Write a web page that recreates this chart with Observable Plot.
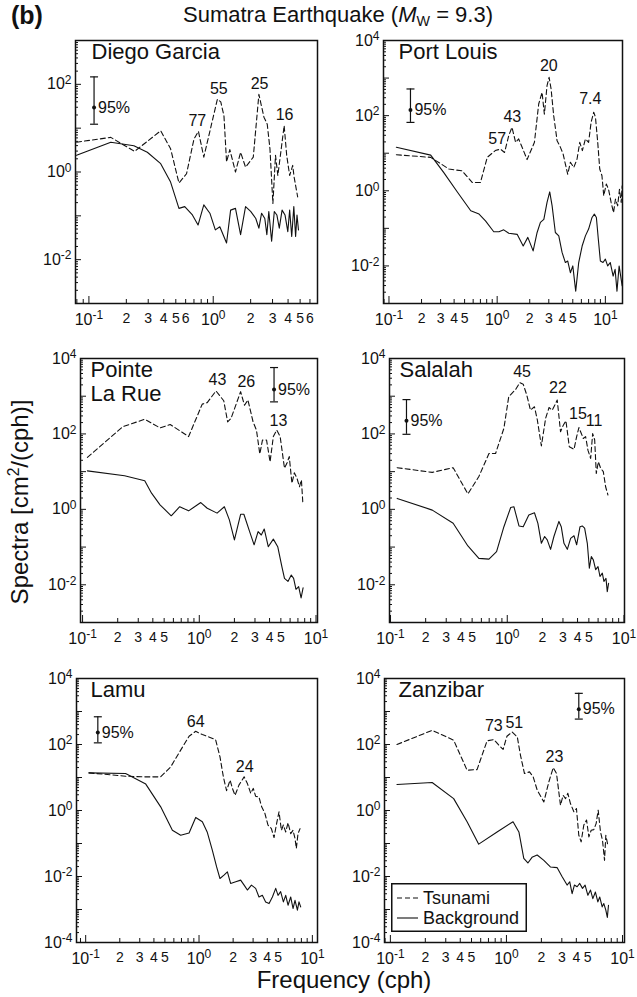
<!DOCTYPE html>
<html><head><meta charset="utf-8">
<script src="https://cdn.jsdelivr.net/npm/d3@7"></script>
<script src="https://cdn.jsdelivr.net/npm/@observablehq/plot@0.6"></script>
<style>
body{margin:0;background:#fff;font-family:"Liberation Sans",Arial,Helvetica,sans-serif;color:#111;}
#root{position:relative;width:637px;height:997px;overflow:hidden;background:#fff;}
.abs{position:absolute;white-space:nowrap;}
</style></head><body><div id="root"></div>
<script>
// ---- data: [frequency (cph), log10 spectrum (cm^2/cph)] ----
const diegoTsunami=[[0.0796,0.68],[0.15,0.79],[0.233,0.47],[0.378,0.94],[0.454,0.53],[0.53,-0.25],[0.61,-0.04],[0.70,0.75],[0.76,0.93],[0.84,0.34],[1.08,1.66],[1.15,1.6],[1.22,1.28],[1.28,0.23],[1.36,0.51],[1.51,0.0],[1.66,0.45],[1.82,0.11],[2.1,0.34],[2.33,1.77],[2.56,1.25],[2.72,1.09],[2.86,0.53],[3.02,-0.72],[3.17,0.38],[3.31,-0.08],[3.55,0.6],[3.72,1.06],[3.9,0.38],[4.12,-0.08],[4.36,0.15],[4.47,-0.11],[4.78,-0.57]];
const diegoBackground=[[0.0796,0.38],[0.15,0.68],[0.23,0.60],[0.295,0.45],[0.378,0.19],[0.454,-0.23],[0.53,-0.83],[0.59,-0.79],[0.68,-0.98],[0.755,-1.21],[0.84,-0.75],[0.94,-0.94],[1.04,-1.32],[1.13,-1.25],[1.28,-1.62],[1.38,-0.87],[1.51,-0.83],[1.66,-1.43],[1.82,-0.79],[2.0,-0.9],[2.2,-1.06],[2.33,-1.28],[2.45,-0.94],[2.6,-1.06],[2.7,-1.43],[2.8,-0.9],[2.95,-1.58],[3.1,-0.9],[3.25,-0.98],[3.4,-1.28],[3.58,-0.87],[3.78,-0.98],[3.98,-1.36],[4.12,-0.87],[4.28,-1.47],[4.45,-0.79],[4.6,-1.47],[4.72,-0.98],[4.85,-1.32]];
const portTsunami=[[0.117,0.96],[0.243,0.89],[0.358,0.58],[0.475,0.53],[0.59,0.22],[0.70,0.22],[0.81,0.89],[0.96,1.07],[1.07,1.11],[1.17,1.02],[1.28,1.47],[1.37,1.69],[1.48,1.29],[1.58,1.38],[1.70,1.16],[1.89,0.83],[2.21,1.29],[2.42,2.31],[2.6,2.62],[2.73,2.04],[2.89,2.8],[3.02,3.02],[3.15,2.71],[3.33,2.0],[3.58,1.33],[3.79,1.2],[4.07,0.98],[4.27,0.71],[4.49,0.44],[4.75,0.76],[5.1,0.62],[5.47,0.84],[5.8,1.29],[6.13,1.07],[6.54,1.38],[7.0,1.29],[7.38,1.82],[7.8,2.09],[8.1,1.96],[8.5,1.29],[8.87,0.58],[9.3,0.4],[9.66,-0.13],[10.2,0.18],[10.7,0.04],[11.3,-0.31],[11.9,-0.58],[12.4,-0.22],[13.0,-0.4],[13.5,0.04],[14.0,-0.31],[14.3,0.13]];
const portBackground=[[0.117,1.16],[0.243,0.95],[0.32,0.49],[0.43,-0.04],[0.57,-0.53],[0.68,-0.62],[0.78,-0.8],[0.93,-1.09],[1.04,-1.09],[1.15,-1.04],[1.28,-1.13],[1.53,-1.16],[1.74,-1.47],[1.92,-1.24],[2.15,-1.6],[2.34,-1.11],[2.51,-0.84],[2.7,-0.76],[2.89,-0.31],[3.06,-0.03],[3.22,-0.4],[3.45,-1.11],[3.71,-1.2],[3.98,-1.64],[4.27,-1.91],[4.49,-1.87],[4.75,-2.18],[5.0,-2.0],[5.32,-2.67],[5.67,-1.91],[6.1,-1.47],[6.54,-1.2],[7.0,-1.02],[7.53,-0.71],[7.91,-0.62],[8.26,-0.71],[8.61,-1.29],[8.99,-1.87],[9.51,-1.91],[10,-1.82],[10.5,-2.0],[11.1,-1.91],[11.8,-2.27],[12.3,-2.09],[12.8,-2.67],[13.4,-2.0],[14.0,-2.36],[14.3,-2.53]];
const pointeTsunami=[[0.11,1.38],[0.221,2.19],[0.341,2.39],[0.461,2.16],[0.563,2.25],[0.81,1.93],[1.06,2.79],[1.17,2.83],[1.39,3.14],[1.62,2.88],[1.75,2.32],[1.87,2.41],[2.26,3.12],[2.44,2.76],[2.61,2.9],[2.89,2.32],[3.09,2.1],[3.3,1.47],[3.48,1.84],[3.77,1.84],[4.04,1.26],[4.31,1.93],[4.61,2.1],[4.93,1.93],[5.37,1.09],[5.63,1.22],[5.9,1.4],[6.22,0.69],[6.52,0.97],[6.88,0.82],[7.21,0.6],[7.5,0.78],[7.7,0.2]];
const pointeBackground=[[0.11,1.02],[0.229,0.89],[0.341,0.76],[0.39,0.43],[0.461,0.12],[0.575,-0.17],[0.68,0.07],[0.81,-0.04],[1.03,0.18],[1.17,0.03],[1.42,-0.1],[1.64,0.07],[1.81,-0.28],[2.0,-0.81],[2.26,-0.13],[2.41,-0.13],[2.7,-0.59],[2.95,-0.94],[3.19,-0.59],[3.4,-0.68],[3.6,-0.52],[3.9,-0.99],[4.31,-0.79],[4.7,-0.99],[5.1,-1.52],[5.37,-1.83],[5.75,-1.91],[6.14,-1.74],[6.43,-1.83],[6.74,-2.12],[7.1,-2.05],[7.45,-2.35],[7.75,-2.08]];
const salalahTsunami=[[0.114,1.105],[0.228,0.98],[0.344,1.105],[0.46,0.41],[0.571,0.87],[0.697,1.48],[0.794,1.48],[0.936,2.15],[1.03,2.99],[1.18,3.18],[1.28,3.36],[1.37,3.32],[1.47,3.03],[1.58,2.63],[1.71,2.72],[1.81,2.37],[1.96,1.68],[2.13,2.41],[2.28,2.7],[2.43,2.63],[2.55,2.76],[2.68,2.9],[2.86,2.06],[3.02,2.23],[3.18,2.35],[3.4,1.66],[3.73,1.59],[3.93,1.93],[4.11,2.17],[4.31,2.01],[4.48,1.88],[4.69,1.93],[4.91,1.57],[5.18,1.35],[5.39,2.01],[5.61,1.84],[5.79,0.95],[6.03,1.26],[6.31,1.09],[6.65,1.0],[6.96,0.6],[7.29,0.38]];
const salalahBackground=[[0.114,0.29],[0.228,-0.02],[0.344,-0.37],[0.46,-0.97],[0.571,-1.3],[0.697,-1.32],[0.81,-1.12],[0.936,-0.46],[1.07,0.05],[1.14,0.07],[1.26,-0.44],[1.37,-0.46],[1.53,-0.15],[1.71,-0.09],[1.83,-0.37],[1.96,-0.9],[2.09,-0.72],[2.2,-0.81],[2.35,-1.06],[2.51,-0.72],[2.77,-0.32],[2.9,-0.46],[3.06,-0.9],[3.27,-1.06],[3.49,-0.77],[3.73,-0.7],[3.93,-0.94],[4.2,-0.46],[4.39,-0.44],[4.6,-0.5],[4.85,-0.9],[5.05,-1.56],[5.25,-1.25],[5.46,-1.34],[5.72,-1.6],[5.99,-1.52],[6.23,-1.78],[6.52,-1.69],[6.73,-1.91],[7.01,-1.83],[7.19,-2.18],[7.38,-1.96]];
const lamuTsunami=[[0.107,1.14],[0.225,1.04],[0.327,1.02],[0.459,1.02],[0.562,1.32],[0.689,1.83],[0.817,2.25],[0.935,2.4],[1.07,2.3],[1.22,2.23],[1.4,2.15],[1.53,1.63],[1.64,1.02],[1.75,0.6],[1.88,0.92],[1.97,0.67],[2.08,0.46],[2.25,0.77],[2.5,1.02],[2.67,0.82],[2.86,0.52],[3.01,0.67],[3.16,0.43],[3.38,0.41],[3.57,0.11],[3.8,-0.07],[4.06,-0.44],[4.35,-0.55],[4.59,-0.82],[4.84,-0.39],[5.08,-0.04],[5.33,-0.6],[5.55,-0.44],[5.82,-0.65],[6.1,-0.37],[6.44,-0.7],[6.75,-0.6],[7.03,-0.85],[7.22,-1.15],[7.47,-0.7],[7.79,-0.55]];
const lamuBackground=[[0.107,1.14],[0.225,1.12],[0.339,0.8],[0.459,0.11],[0.582,-0.6],[0.689,-0.75],[0.817,-0.68],[0.935,-0.21],[1.07,-0.34],[1.18,-0.65],[1.31,-1.2],[1.43,-1.71],[1.53,-2.06],[1.66,-1.96],[1.78,-1.86],[1.9,-2.21],[2.11,-2.16],[2.33,-2.11],[2.5,-2.26],[2.67,-2.41],[2.9,-2.26],[3.16,-2.36],[3.38,-2.62],[3.62,-2.57],[3.87,-2.77],[4.15,-2.82],[4.44,-2.62],[4.75,-2.36],[4.98,-2.57],[5.25,-2.46],[5.55,-2.77],[5.82,-2.57],[6.1,-2.87],[6.44,-2.62],[6.75,-2.97],[7.03,-2.72],[7.38,-3.02],[7.62,-2.77],[7.89,-2.92]];
const zanzibarTsunami=[[0.114,2.0],[0.229,2.43],[0.351,2.13],[0.458,1.22],[0.558,1.24],[0.681,2.11],[0.778,2.15],[0.859,1.98],[0.936,1.85],[1.01,2.25],[1.12,2.38],[1.24,2.23],[1.32,1.68],[1.43,1.12],[1.58,1.17],[1.7,1.02],[1.84,0.62],[2.1,0.26],[2.32,0.87],[2.53,1.3],[2.7,1.12],[2.92,0.16],[3.08,0.46],[3.23,0.36],[3.38,0.52],[3.56,0.21],[3.81,-0.04],[4.01,0.06],[4.2,-0.75],[4.4,-0.95],[4.64,-0.44],[4.9,-0.29],[5.13,-0.8],[5.37,-0.6],[5.66,-0.58],[5.93,-0.39],[6.17,0.01],[6.46,-0.65],[6.72,-0.9],[7.0,-1.51],[7.18,-0.75],[7.47,-1.05]];
const zanzibarBackground=[[0.114,0.79],[0.229,0.85],[0.351,0.36],[0.458,-0.34],[0.577,-1.02],[0.83,-0.65],[1.14,-0.34],[1.28,-0.65],[1.41,-1.45],[1.53,-1.59],[1.66,-1.42],[1.84,-1.35],[2.1,-1.51],[2.39,-1.71],[2.73,-1.73],[3.02,-2.01],[3.33,-2.26],[3.51,-2.16],[3.68,-2.52],[3.85,-2.26],[4.06,-2.31],[4.28,-2.21],[4.52,-2.36],[4.76,-2.26],[5.03,-2.57],[5.3,-2.41],[5.55,-2.67],[5.84,-2.47],[6.13,-2.77],[6.36,-2.62],[6.68,-2.92],[6.9,-2.82],[7.18,-3.02],[7.4,-3.24],[7.57,-2.87]];

// peak labels: [period (min), frequency, log10 spectrum of label]
const diegoPeaks=[["77",0.745,1.17],["55",1.11,1.89],["25",2.36,2.0],["16",3.75,1.3]];
const portPeaks=[["57",1.0,1.38],["43",1.38,1.96],["20",3.0,3.33],["7.4",7.25,2.44]];
const pointePeaks=[["43",1.43,3.43],["26",2.53,3.38],["13",4.76,2.35]];
const salalahPeaks=[["45",1.34,3.65],["22",2.72,3.21],["15",4.03,2.54],["11",5.53,2.35]];
const lamuPeaks=[["64",0.935,2.69],["24",2.53,1.32]];
const zanzibarPeaks=[["73",0.778,2.56],["51",1.17,2.66],["23",2.59,1.63]];

// 95% confidence bars: frequency, log10 low / mid / high
const diegoErr={f:0.11,lo:1.09,mid:1.47,hi:2.17};
const portErr={f:0.158,lo:1.82,mid:2.15,hi:2.71};
const pointeErr={f:4.37,lo:2.85,mid:3.18,hi:3.76};
const salalahErr={f:0.137,lo:1.99,mid:2.35,hi:2.91};
const lamuErr={f:0.128,lo:2.05,mid:2.36,hi:2.84};
const zanzibarErr={f:4.2,lo:2.77,mid:3.07,hi:3.55};

// tick labels
const xTickLabelsA=[0.1,0.2,0.3,0.4,0.5,0.6,1,2,3,4,5,6];
const xTickLabelsB=[0.1,0.2,0.3,0.4,0.5,1,2,3,4,5,10];
const yTickLabelsA=[1e-2,1,1e2];
const yTickLabelsB=[1e-2,1,1e2,1e4];
const yTickLabelsC=[1e-4,1e-2,1,1e2,1e4];

const FONT='"Liberation Sans", Arial, Helvetica, sans-serif';
const ML=52,MR=8,MT=10,MB=32;

const panels=[
 {name:"Diego Garcia",left:75,top:40,w:242,h:263,xd:[0.078,6.9],yd:[1e-3,1e3],xl:xTickLabelsA,yl:yTickLabelsA,tsu:diegoTsunami,bg:diegoBackground,err:diegoErr,peaks:diegoPeaks,dx:16},
 {name:"Port Louis",left:383,top:40,w:239,h:263,xd:[0.089,14.4],yd:[1e-3,1e4],xl:xTickLabelsB,yl:yTickLabelsB,tsu:portTsunami,bg:portBackground,err:portErr,peaks:portPeaks,dx:15},
 {name:"Pointe\nLa Rue",left:80,top:358,w:237,h:264,xd:[0.096,10.3],yd:[1e-3,1e4],xl:xTickLabelsB,yl:yTickLabelsB,tsu:pointeTsunami,bg:pointeBackground,err:pointeErr,peaks:pointePeaks,dx:10},
 {name:"Salalah",left:389,top:358,w:235,h:264,xd:[0.098,10.1],yd:[1e-3,1e4],xl:xTickLabelsB,yl:yTickLabelsB,tsu:salalahTsunami,bg:salalahBackground,err:salalahErr,peaks:salalahPeaks,dx:10},
 {name:"Lamu",left:76,top:678,w:241,h:264,xd:[0.083,11.1],yd:[1e-4,1e4],xl:xTickLabelsB,yl:yTickLabelsC,tsu:lamuTsunami,bg:lamuBackground,err:lamuErr,peaks:lamuPeaks,dx:14},
 {name:"Zanzibar",left:384,top:678,w:240,h:264,xd:[0.089,10.4],yd:[1e-4,1e4],xl:xTickLabelsB,yl:yTickLabelsC,tsu:zanzibarTsunami,bg:zanzibarBackground,err:zanzibarErr,peaks:zanzibarPeaks,dx:14}
];

function logTicks([lo,hi]){
  const out=[];
  for(let e=Math.floor(Math.log10(lo));e<=Math.ceil(Math.log10(hi));e++)
    for(let k=1;k<=9;k++){const v=k*Math.pow(10,e); if(v>=lo*0.9999&&v<=hi*1.0001) out.push({v,major:k===1});}
  return out;
}
function fmt(d){
  const e=Math.round(Math.log10(d));
  if(Math.abs(d/Math.pow(10,e)-1)<1e-6) return "10^"+e;
  return String(Math.round(d/Math.pow(10,Math.floor(Math.log10(d)+1e-9))));
}
const capSymbol={draw(ctx){ctx.moveTo(-4,0);ctx.lineTo(4,0);}};

// turn "10^e" tick texts into 10 + superscript; shrink single-digit minor labels
function supify(svg){
  const ns="http://www.w3.org/2000/svg";
  svg.querySelectorAll("text").forEach(t=>{
    const s=t.textContent;
    if(/^10\^-?\d+$/.test(s)){
      const [b,e]=s.split("^");
      t.textContent="";
      const a=document.createElementNS(ns,"tspan"); a.textContent=b;
      const c=document.createElementNS(ns,"tspan"); c.textContent=e;
      c.setAttribute("dy","-0.45em"); c.setAttribute("font-size","12px");
      t.append(a,c);
    } else if(/^\d$/.test(s)){
      t.setAttribute("font-size","14px");
    }
  });
}

const root=document.getElementById("root");
for(const p of panels){
  const xt=logTicks(p.xd), yt=logTicks(p.yd);
  const caps=[{f:p.err.f,v:p.err.lo},{f:p.err.f,v:p.err.hi}];
  const svg=Plot.plot({
    width:p.w+ML+MR,height:p.h+MT+MB,marginLeft:ML,marginRight:MR,marginTop:MT,marginBottom:MB,
    x:{type:"log",domain:p.xd,axis:null},
    y:{type:"log",domain:p.yd},
    style:{fontFamily:FONT,fontSize:"16px",color:"#111",background:"transparent",overflow:"visible"},
    marks:[
      Plot.ruleX(xt.filter(d=>d.major),{x:d=>d.v,insetTop:p.h-7,stroke:"#111",strokeWidth:1}),
      Plot.ruleX(xt.filter(d=>!d.major),{x:d=>d.v,insetTop:p.h-4,stroke:"#111",strokeWidth:1}),
      Plot.ruleY(yt.filter(d=>d.major),{y:d=>d.v,insetRight:p.w-6,stroke:"#111",strokeWidth:1}),
      Plot.ruleY(yt.filter(d=>!d.major),{y:d=>d.v,insetRight:p.w-3,stroke:"#111",strokeWidth:1}),
      // x tick labels placed by the x scale (all labels kept, incl. 6)
      Plot.text(p.xl,{x:d=>d,text:fmt,frameAnchor:"bottom",lineAnchor:"top",dy:10,fontSize:16,fill:"#111"}),
      Plot.axisY({ticks:p.yl,tickFormat:fmt,tickSize:0,tickPadding:4,fontSize:16,label:null}),
      Plot.line(p.tsu,{x:d=>d[0],y:d=>Math.pow(10,d[1]),stroke:"#111",strokeWidth:1.1,strokeDasharray:"5,3"}),
      Plot.line(p.bg,{x:d=>d[0],y:d=>Math.pow(10,d[1]),stroke:"#111",strokeWidth:1.1}),
      Plot.ruleX([p.err],{x:d=>d.f,y1:d=>Math.pow(10,d.lo),y2:d=>Math.pow(10,d.hi),stroke:"#111",strokeWidth:1.2}),
      Plot.dot(caps,{x:d=>d.f,y:d=>Math.pow(10,d.v),symbol:capSymbol,stroke:"#111",fill:"none",strokeWidth:1.2}),
      Plot.dot([p.err],{x:d=>d.f,y:d=>Math.pow(10,d.mid),r:2,fill:"#111",stroke:"none"}),
      Plot.text([p.err],{x:d=>d.f,y:d=>Math.pow(10,d.mid),text:()=>"95%",dx:4,textAnchor:"start",fontSize:16,fill:"#111"}),
      Plot.text(p.peaks,{x:d=>d[1],y:d=>Math.pow(10,d[2]),text:d=>d[0],fontSize:16,fill:"#111"}),
      Plot.text([p.name],{frameAnchor:"top-left",text:d=>d,dx:p.dx,dy:2,textAnchor:"start",lineAnchor:"top",lineHeight:1.08,fontSize:22,fill:"#111"}),
      Plot.frame({stroke:"#111",strokeWidth:1.5})
    ]
  });
  supify(svg);
  svg.style.position="absolute";
  svg.style.left=(p.left-ML)+"px";
  svg.style.top=(p.top-MT)+"px";
  root.appendChild(svg);
}

function addDiv(html,css){const d=document.createElement("div");d.className="abs";d.innerHTML=html;Object.assign(d.style,css);root.appendChild(d);return d;}
addDiv("(b)",{left:"11px",top:"1px",fontSize:"25px",fontWeight:"bold"});
addDiv('Sumatra Earthquake (<i>M</i><sub style="font-size:0.65em;vertical-align:-0.25em">W</sub> = 9.3)',{left:"338px",top:"2px",fontSize:"22px",transform:"translateX(-50%)"});
addDiv('Spectra [cm<sup style="font-size:0.65em">2</sup>/(cph)]',{left:"19px",top:"502px",fontSize:"24px",transform:"translate(-50%,-50%) rotate(-90deg)"});
addDiv("Frequency (cph)",{left:"344px",top:"966px",fontSize:"24px",transform:"translateX(-50%)"});

// legend
const ns="http://www.w3.org/2000/svg";
const lg=document.createElementNS(ns,"svg");
lg.setAttribute("width","136");lg.setAttribute("height","49");
Object.assign(lg.style,{position:"absolute",left:"391px",top:"883px"});
lg.innerHTML='<rect x="0.75" y="0.75" width="134.5" height="47.5" fill="#fff" stroke="#111" stroke-width="1.5"/>'+
 '<line x1="6" x2="27" y1="15" y2="15" stroke="#111" stroke-width="1.1" stroke-dasharray="5,3"/>'+
 '<line x1="6" x2="27" y1="35" y2="35" stroke="#111" stroke-width="1.1"/>'+
 '<text x="32" y="21" font-size="18" font-family=\'Liberation Sans, Arial, sans-serif\' fill="#111">Tsunami</text>'+
 '<text x="32" y="41" font-size="18" font-family=\'Liberation Sans, Arial, sans-serif\' fill="#111">Background</text>';
root.appendChild(lg);
</script></body></html>
